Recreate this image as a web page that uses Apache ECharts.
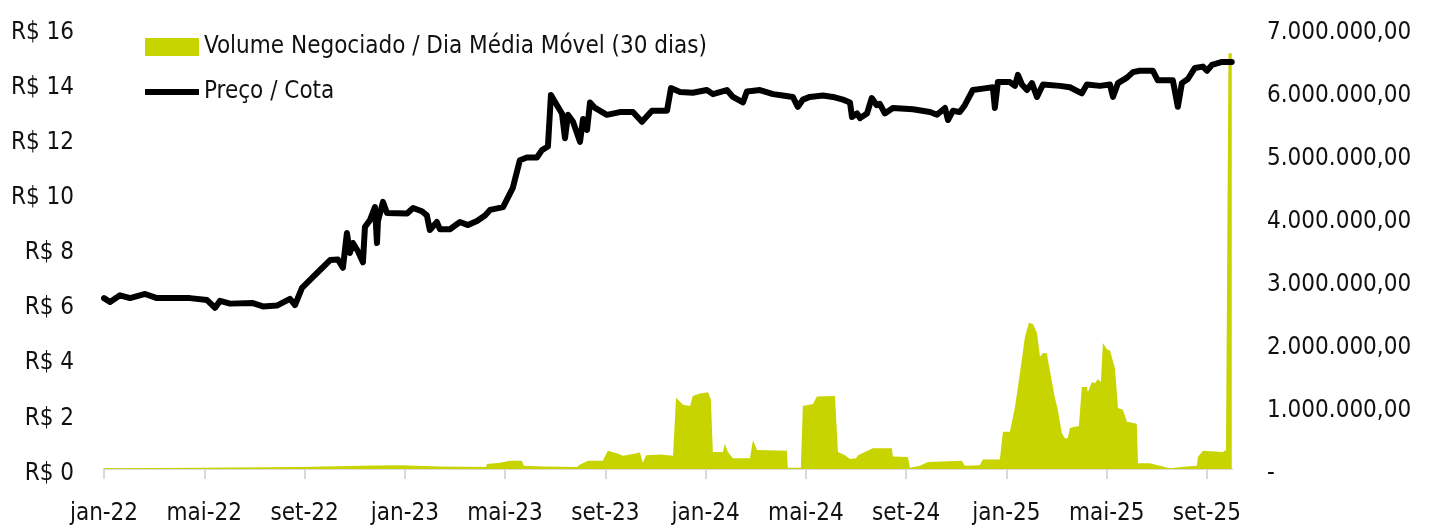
<!DOCTYPE html>
<html>
<head>
<meta charset="utf-8">
<script src="https://cdn.jsdelivr.net/npm/echarts@6/dist/echarts.min.js"></script>
<style>
  html, body { margin: 0; padding: 0; background: #fff; }
  #charts { width: 1434px; height: 528px; }
</style>
</head>
<body>
<div id="charts"></div>
<script>
// eixo x em meses desde jan-22 (0 = jan-22)
var mesesNomes = ['jan', 'fev', 'mar', 'abr', 'mai', 'jun', 'jul', 'ago', 'set', 'out', 'nov', 'dez'];
var mesesTicks = [0, 4, 8, 12, 16, 20, 24, 28, 32, 36, 40, 44];

// Preço / Cota (R$)
var precoMes = [0, 0.24, 0.64, 1.04, 1.64, 2.11, 3.43, 4.11, 4.43, 4.63, 5.03, 5.94, 6.34, 6.9, 7.42, 7.62, 7.9, 8.22, 8.62, 9.02,
  9.33, 9.53, 9.69, 9.81, 9.93, 10.13, 10.33, 10.41, 10.61, 10.81, 10.89, 10.93, 11.13, 11.29, 12.09, 12.33, 12.68, 12.88, 13.0, 13.28,
  13.4, 13.8, 14.2, 14.52, 14.88, 15.2, 15.4, 15.92, 16.31, 16.59, 16.87, 17.27, 17.47, 17.71, 17.83, 18.07, 18.27, 18.39, 18.51, 18.71,
  18.99, 19.11, 19.27, 19.39, 19.59, 20.06, 20.58, 21.1, 21.46, 21.86, 22.46, 22.62, 22.98, 23.49, 24.05, 24.29, 24.85, 25.09, 25.49, 25.65,
  26.17, 26.69, 27.08, 27.48, 27.68, 27.88, 28.16, 28.68, 29.08, 29.48, 29.76, 29.84, 30.04, 30.16, 30.44, 30.63, 30.83, 30.95, 31.15, 31.47,
  32.27, 32.95, 33.23, 33.55, 33.67, 33.87, 34.14, 34.34, 34.66, 35.06, 35.46, 35.54, 35.66, 36.14, 36.34, 36.46, 36.62, 36.82, 37.02, 37.22,
  37.46, 38.13, 38.53, 39.01, 39.21, 39.73, 40.13, 40.25, 40.45, 40.81, 41.05, 41.32, 41.84, 42.04, 42.64, 42.84, 43.0, 43.24, 43.52, 43.84,
  44.0, 44.2, 44.6, 44.99];
var precoValor = [6.2, 6.06, 6.3, 6.2, 6.35, 6.2, 6.2, 6.13, 5.85, 6.1, 6.0, 6.02, 5.9, 5.93, 6.17, 5.95, 6.57, 6.86, 7.22, 7.58,
  7.6, 7.3, 8.56, 7.84, 8.2, 7.9, 7.5, 8.78, 9.03, 9.5, 8.2, 9.0, 9.69, 9.29, 9.27, 9.47, 9.35, 9.2, 8.67, 8.96,
  8.7, 8.7, 8.96, 8.85, 9.0, 9.2, 9.4, 9.5, 10.2, 11.2, 11.3, 11.3, 11.57, 11.7, 13.57, 13.2, 12.9, 12.0, 12.85, 12.6,
  11.87, 12.7, 12.3, 13.3, 13.1, 12.85, 12.95, 12.95, 12.6, 13.0, 13.0, 13.82, 13.68, 13.65, 13.75, 13.6, 13.75, 13.5, 13.3, 13.7,
  13.75, 13.6, 13.55, 13.5, 13.14, 13.4, 13.5, 13.55, 13.5, 13.4, 13.3, 12.77, 12.9, 12.73, 12.9, 13.46, 13.2, 13.25, 12.9, 13.1,
  13.05, 12.95, 12.85, 13.1, 12.66, 13.0, 12.95, 13.2, 13.75, 13.8, 13.85, 13.1, 14.04, 14.04, 13.9, 14.3, 13.95, 13.75, 14.0, 13.5,
  13.95, 13.9, 13.85, 13.63, 13.95, 13.9, 13.95, 13.5, 14.0, 14.2, 14.4, 14.45, 14.45, 14.1, 14.1, 13.14, 14.0, 14.15, 14.55, 14.6,
  14.45, 14.66, 14.77, 14.77];

// Volume Negociado / Dia - média móvel 30 dias (milhões de R$)
var volumeMes = [0, 3.83, 7.82, 10.2, 11.8, 13.4, 15.24, 15.28, 15.8, 16.19, 16.67, 16.75, 17.51, 18.87, 18.99, 19.31, 19.9, 20.1, 20.46, 20.7,
  21.1, 21.38, 21.5, 21.62, 22.18, 22.7, 22.82, 23.1, 23.38, 23.49, 23.77, 24.1, 24.21, 24.29, 24.69, 24.77, 24.89, 25.09, 25.77, 25.89,
  26.05, 27.24, 27.28, 27.8, 27.88, 28.28, 28.44, 29.16, 29.28, 29.56, 29.76, 30.0, 30.08, 30.67, 31.43, 31.47, 32.07, 32.15, 32.55, 32.87,
  34.22, 34.34, 34.94, 35.06, 35.74, 35.86, 36.14, 36.34, 36.54, 36.74, 36.9, 37.06, 37.22, 37.34, 37.46, 37.61, 37.73, 37.93, 38.05, 38.21,
  38.33, 38.45, 38.53, 38.81, 38.89, 39.01, 39.21, 39.25, 39.41, 39.53, 39.65, 39.77, 39.85, 40.01, 40.13, 40.33, 40.45, 40.65, 40.81, 41.2,
  41.25, 41.72, 42.52, 43.2, 43.6, 43.64, 43.84, 44.64, 44.76, 44.86, 44.99];
var volumeMi = [0.01, 0.02, 0.03, 0.05, 0.06, 0.04, 0.03, 0.08, 0.1, 0.13, 0.13, 0.05, 0.04, 0.03, 0.07, 0.13, 0.13, 0.29, 0.25, 0.21,
  0.24, 0.26, 0.1, 0.22, 0.23, 0.21, 1.13, 1.02, 1.0, 1.16, 1.2, 1.22, 1.1, 0.27, 0.27, 0.4, 0.27, 0.17, 0.17, 0.46,
  0.3, 0.29, 0.02, 0.02, 1.0, 1.03, 1.15, 1.16, 0.27, 0.22, 0.16, 0.17, 0.22, 0.33, 0.33, 0.2, 0.19, 0.02, 0.05, 0.11,
  0.13, 0.05, 0.06, 0.15, 0.15, 0.59, 0.59, 0.98, 1.52, 2.1, 2.32, 2.3, 2.16, 1.78, 1.84, 1.84, 1.57, 1.14, 0.94, 0.57,
  0.49, 0.49, 0.65, 0.68, 0.68, 1.3, 1.3, 1.22, 1.38, 1.36, 1.43, 1.38, 2.0, 1.9, 1.88, 1.6, 0.97, 0.94, 0.75, 0.72,
  0.09, 0.09, 0.01, 0.04, 0.05, 0.19, 0.29, 0.27, 0.3, 6.6, 6.6];

var fonte = "'DejaVu Sans Condensed', 'Noto Sans', sans-serif";

function formataReais(v) {
  if (v === 0) return '{t|-}';
  var s = String(Math.round(v));
  s = s.replace(/\B(?=(\d{3})+(?!\d))/g, '.');
  return '{t|' + s + ',00}';
}

// rótulos dos eixos y um pouco abaixo da marca
var rotuloRich = { t: { fontFamily: fonte, fontSize: 24, color: '#111', padding: [9, 0, 0, 0] } };

var chartDom = document.getElementById('charts');
var myChart = echarts.init(chartDom);

var option = {
  animation: false,
  textStyle: { fontFamily: fonte },
  grid: { left: 104, right: 202, top: 28, bottom: 59 },
  legend: {
    orient: 'vertical',
    left: 140,
    top: 30,
    itemWidth: 54,
    itemHeight: 18,
    itemGap: 21,
    textStyle: { fontFamily: fonte, fontSize: 24, color: '#111' },
    data: [
      { name: 'Volume Negociado / Dia Média Móvel (30 dias)', icon: 'rect' },
      { name: 'Preço / Cota', icon: 'path://M0,0L54,0L54,6L0,6Z' }
    ]
  },
  xAxis: {
    type: 'value',
    min: 0,
    max: 45,
    interval: 4,
    splitLine: { show: false },
    axisLine: { lineStyle: { color: '#d9d9d9', width: 2 } },
    axisTick: { length: 10, lineStyle: { color: '#d9d9d9', width: 2 }, customValues: mesesTicks },
    axisLabel: {
      customValues: mesesTicks,
      margin: 33,
      fontSize: 24,
      color: '#111',
      fontFamily: fonte,
      formatter: function (v) {
        if (v % 4 !== 0) return '';
        return mesesNomes[v % 12] + '-' + (22 + Math.floor(v / 12));
      }
    }
  },
  yAxis: [
    {
      type: 'value',
      position: 'left',
      min: 0,
      max: 16,
      interval: 2,
      splitLine: { show: false },
      axisLine: { show: false },
      axisTick: { show: false },
      axisLabel: {
        margin: 30, fontSize: 24, color: '#111', fontFamily: fonte, rich: rotuloRich,
        formatter: function (v) { return '{t|R$ ' + v + '}'; }
      }
    },
    {
      type: 'value',
      position: 'right',
      min: 0,
      max: 7000000,
      interval: 1000000,
      splitLine: { show: false },
      axisLine: { show: false },
      axisTick: { show: false },
      axisLabel: { margin: 35, fontSize: 24, color: '#111', fontFamily: fonte, rich: rotuloRich, formatter: formataReais }
    }
  ],
  series: [
    {
      name: 'Volume Negociado / Dia Média Móvel (30 dias)',
      type: 'line',
      yAxisIndex: 1,
      symbol: 'none',
      color: '#c8d400',
      lineStyle: { width: 0 },
      areaStyle: { color: '#c8d400', opacity: 1 },
      z: 1,
      data: volumeMes.map(function (m, i) { return [m, volumeMi[i] * 1000000]; })
    },
    {
      name: 'Preço / Cota',
      type: 'line',
      yAxisIndex: 0,
      symbol: 'none',
      color: '#000',
      lineStyle: { color: '#000', width: 6, join: 'round', cap: 'round' },
      z: 3,
      data: precoMes.map(function (m, i) { return [m, precoValor[i]]; })
    }
  ]
};

option && myChart.setOption(option);
</script>
</body>
</html>
